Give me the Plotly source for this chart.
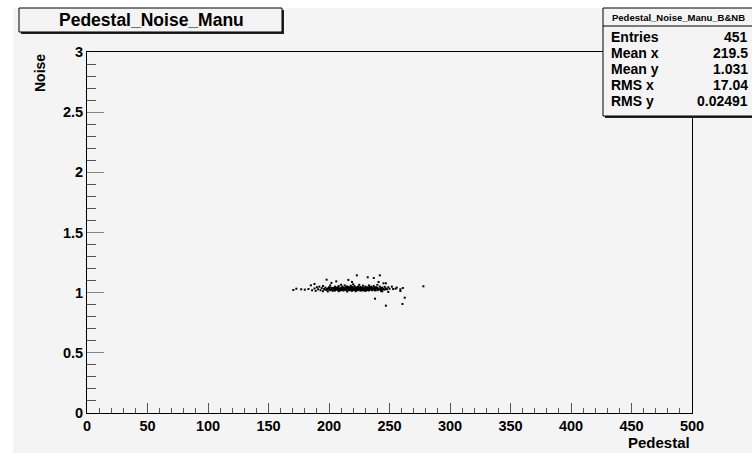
import plotly.graph_objects as go

# Data: (Pedestal, Noise) points
pedestal = [
    170.5, 173, 177, 180, 183, 185, 186, 188, 188, 189, 190, 191, 192, 193, 194, 195, 195, 196, 197, 198, 198, 199, 199,
    200, 200, 201, 201, 202, 202, 203, 203, 204, 204, 205, 205, 205, 206, 206, 206, 207, 207, 208, 208, 208, 209, 209, 210, 210, 210, 210,
    211, 211, 212, 212, 212, 213, 213, 213, 214, 214, 214, 215, 215, 215, 216, 216, 216, 217, 217, 217, 218, 218, 218, 219, 219, 219, 219, 220, 220, 220, 220,
    221, 221, 221, 222, 222, 222, 223, 223, 223, 224, 224, 224, 225, 225, 225, 226, 226, 226, 227, 227, 228, 228, 228, 229, 229, 230, 230, 230, 230,
    231, 231, 232, 232, 232, 233, 233, 233, 234, 234, 235, 235, 235, 236, 236, 237, 237, 237, 238, 238, 238, 239, 239, 240, 240, 240,
    241, 241, 242, 242, 242, 243, 243, 244, 244, 245, 245, 246, 246, 247, 247, 247, 248, 249, 249, 250,
    252, 253, 255, 256, 259, 259, 261, 260.7, 262.6, 278,
    # dense core
    196.5, 198.5, 200.5, 202.5, 203.5, 204.5, 206.5, 207.5, 209.5, 210.5, 211.5, 212.5, 213.5, 214.5, 215.5, 216.5,
    217.5, 218.5, 219.5, 220.5, 221.5, 222.5, 223.5, 224.5, 225.5, 226.5, 227.5, 228.5, 229.5, 230.5, 231.5, 232.5,
    233.5, 234.5, 235.5, 236.5, 237.5, 238.5, 239.5, 240.5, 242.5, 244.5, 201.5, 205.5, 208.5, 212, 216, 219, 223, 227,
    231, 235, 239, 243, 209, 214, 218, 222, 226, 230, 234, 238,
]
noise = [
    1.022, 1.033, 1.028, 1.025, 1.030, 1.061, 1.020, 1.072, 1.035, 1.015, 1.045, 1.028, 1.050, 1.020, 1.038, 1.012, 1.055, 1.030, 1.042, 1.108, 1.022, 1.035, 1.010,
    1.030, 1.045, 1.020, 1.060, 1.081, 1.028, 1.035, 1.015, 1.040, 1.025, 1.050, 1.032, 1.018, 1.094, 1.038, 1.027, 1.022, 1.045, 1.030, 1.012, 1.055, 1.035, 1.024, 1.040, 1.020, 1.066, 1.030,
    1.028, 1.050, 1.035, 1.018, 1.042, 1.025, 1.060, 1.032, 1.045, 1.022, 1.030, 1.038, 1.010, 1.052, 1.106, 1.028, 1.035, 1.020, 1.044, 1.030, 1.058, 1.025, 1.036, 1.032, 1.015, 1.089, 1.048, 1.030, 1.022, 1.040, 1.070,
    1.035, 1.025, 1.055, 1.030, 1.045, 1.012, 1.144, 1.038, 1.028, 1.020, 1.050, 1.033, 1.040, 1.025, 1.065, 1.030, 1.018, 1.046, 1.036, 1.027, 1.042, 1.020, 1.058, 1.032, 1.024, 1.040, 1.015, 1.050, 1.030,
    1.035, 1.022, 1.128, 1.045, 1.028, 1.038, 1.018, 1.060, 1.030, 1.042, 1.025, 1.050, 1.034, 1.020, 1.040, 1.122, 1.030, 1.055, 0.950, 1.036, 1.024, 1.045, 1.030, 1.020, 1.040, 1.065,
    1.089, 1.033, 1.144, 1.026, 1.050, 1.038, 1.015, 1.011, 1.042, 1.078, 1.030, 1.025, 1.048, 0.892, 1.078, 1.035, 1.028, 1.006, 1.045, 1.032,
    1.050, 1.030, 1.033, 1.042, 1.028, 1.014, 1.039, 0.906, 0.958, 1.053,
    1.026, 1.031, 1.024, 1.037, 1.029, 1.021, 1.033, 1.041, 1.027, 1.035, 1.023, 1.030, 1.039, 1.026, 1.033, 1.021,
    1.029, 1.040, 1.024, 1.034, 1.028, 1.037, 1.022, 1.031, 1.027, 1.039, 1.024, 1.033, 1.029, 1.036, 1.021, 1.032,
    1.027, 1.038, 1.024, 1.031, 1.043, 1.028, 1.035, 1.026, 1.031, 1.027, 1.041, 1.036, 1.019, 1.026, 1.047, 1.023,
    1.041, 1.019, 1.043, 1.034, 1.030, 1.021, 1.033, 1.037, 1.041, 1.020, 1.044, 1.017, 1.046, 1.019,
]

title_text = "Pedestal_Noise_Manu"
stats_title = "Pedestal_Noise_Manu_B&NB"
stats_labels = ["Entries", "Mean x", "Mean y", "RMS x", "RMS y"]
stats_values = ["451", "219.5", "1.031", "17.04", "0.02491"]

W, H = 752, 455
L, R, T, B = 87, 692, 52, 413
BG = "#f4f4f4"
FONT = "Liberation Sans, Arial, sans-serif"


def px(x):
    return (x - L) / (R - L)


def py(y):
    return (B - y) / (B - T)


fig = go.Figure()
fig.add_trace(go.Scatter(
    x=pedestal, y=noise, mode="markers",
    marker=dict(symbol="square", size=2, color="black", line=dict(width=0)),
    showlegend=False, hoverinfo="x+y",
))

shapes = []
# canvas gray area
shapes.append(dict(type="rect", xref="paper", yref="paper", x0=px(13), x1=px(760), y0=py(8), y1=py(453),
                   fillcolor=BG, line=dict(width=0), layer="below"))
# title box with shadow
shapes.append(dict(type="rect", xref="paper", yref="paper", x0=px(21), x1=px(284), y0=py(10), y1=py(34),
                   fillcolor="#222", line=dict(width=0)))
shapes.append(dict(type="rect", xref="paper", yref="paper", x0=px(19), x1=px(282), y0=py(8), y1=py(32),
                   fillcolor=BG, line=dict(color="black", width=1)))
# stats box
shapes.append(dict(type="rect", xref="paper", yref="paper", x0=px(605), x1=px(760), y0=py(10), y1=py(118),
                   fillcolor="#222", line=dict(width=0)))
shapes.append(dict(type="rect", xref="paper", yref="paper", x0=px(603), x1=px(758), y0=py(8), y1=py(116),
                   fillcolor=BG, line=dict(color="black", width=1)))
shapes.append(dict(type="line", xref="paper", yref="paper", x0=px(603), x1=px(758), y0=py(26), y1=py(26),
                   line=dict(color="black", width=1)))

annotations = []
annotations.append(dict(text="<b>%s</b>" % title_text, xref="paper", yref="paper", x=px(151), y=py(20),
                        xanchor="center", yanchor="middle", showarrow=False,
                        font=dict(family=FONT, size=17.5, color="black")))
annotations.append(dict(text="<b>%s</b>" % stats_title, xref="paper", yref="paper", x=px(678), y=py(17),
                        xanchor="center", yanchor="middle", showarrow=False,
                        font=dict(family=FONT, size=9.5, color="black")))
rows_y = [37, 53, 69, 85, 101]
for lab, val, yy in zip(stats_labels, stats_values, rows_y):
    annotations.append(dict(text="<b>%s</b>" % lab, xref="paper", yref="paper", x=px(609), y=py(yy),
                            xanchor="left", yanchor="middle", showarrow=False,
                            font=dict(family=FONT, size=14, color="black")))
    annotations.append(dict(text="<b>%s</b>" % val, xref="paper", yref="paper", x=px(750), y=py(yy),
                            xanchor="right", yanchor="middle", showarrow=False,
                            font=dict(family=FONT, size=14, color="black")))
annotations.append(dict(text="<b>Noise</b>", xref="paper", yref="paper", x=px(40), y=py(52),
                        xanchor="center", yanchor="top", textangle=-90, showarrow=False,
                        font=dict(family=FONT, size=14, color="black")))
annotations.append(dict(text="<b>Pedestal</b>", xref="paper", yref="paper", x=px(692), y=py(453),
                        xanchor="right", yanchor="bottom", showarrow=False,
                        font=dict(family=FONT, size=15, color="black")))

fig.update_layout(
    width=W, height=H,
    margin=dict(l=L, r=W - R, t=T, b=H - B, pad=0),
    paper_bgcolor="white", plot_bgcolor=BG,
    shapes=shapes, annotations=annotations,
    font=dict(family=FONT, color="black"),
)
fig.update_xaxes(
    range=[0, 500], tickmode="linear", tick0=0, dtick=50,
    ticks="inside", ticklen=10, tickcolor="#555", tickwidth=1,
    minor=dict(ticks="inside", ticklen=5, dtick=10, tickcolor="#555", showgrid=False),
    showline=True, linecolor="black", linewidth=1, mirror=True,
    showgrid=False, zeroline=False,
    tickfont=dict(family=FONT, size=14.5, color="black"), tickprefix="<b>", ticksuffix="</b>",
)
fig.update_yaxes(
    range=[0, 3], tickmode="linear", tick0=0, dtick=0.5,
    ticks="inside", ticklen=17, tickcolor="#888", tickwidth=1,
    minor=dict(ticks="inside", ticklen=9, dtick=0.1, tickcolor="#555", showgrid=False),
    showline=True, linecolor="black", linewidth=1, mirror=True,
    showgrid=False, zeroline=False,
    tickfont=dict(family=FONT, size=14.5, color="black"), tickprefix="<b>", ticksuffix="</b>",
)

fig.write_html("out.html", config={"displayModeBar": False},
               post_script="document.body.style.margin='0';document.body.style.overflow='hidden';")
